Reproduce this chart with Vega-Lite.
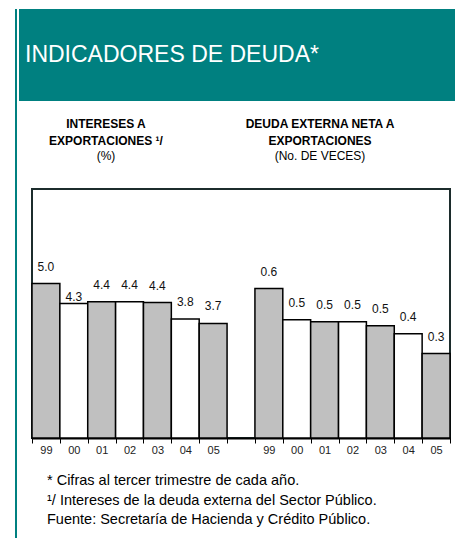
{
  "$schema": "https://vega.github.io/schema/vega-lite/v6.json",
  "padding": {"left": 15, "top": 9, "right": 0, "bottom": 0},
  "spacing": 2,
  "hconcat": [
    {
      "data": {"values": []},
      "mark": "text",
      "width": 2,
      "height": 529,
      "view": {"fill": "#008080", "stroke": null}
    },
    {
      "spacing": 17,
      "vconcat": [
        {
          "data": {"values": []},
          "mark": "text",
          "width": 436,
          "height": 92,
          "view": {"fill": "#008080", "stroke": null},
          "title": {
            "text": "INDICADORES DE DEUDA*",
            "orient": "top",
            "anchor": "start",
            "frame": "group",
            "offset": -58,
            "dx": 6,
            "color": "white",
            "fontSize": 23,
            "fontWeight": "normal",
            "font": "Liberation Sans"
          }
        },
        {
          "spacing": 0,
          "hconcat": [
            {
              "data": {"values": []},
              "mark": "text",
              "width": 174,
              "height": 8,
              "view": {"stroke": null},
              "title": {
                "text": ["INTERESES A", "EXPORTACIONES ¹/"],
                "subtitle": "(%)",
                "anchor": "middle",
                "frame": "group",
                "offset": 0,
                "color": "black",
                "fontSize": 12,
                "fontWeight": "bold",
                "lineHeight": 17,
                "subtitleFontSize": 12,
                "subtitleFontWeight": "normal",
                "subtitleColor": "black",
                "subtitlePadding": 3
              }
            },
            {
              "data": {"values": []},
              "mark": "text",
              "width": 254,
              "height": 8,
              "view": {"stroke": null},
              "title": {
                "text": ["DEUDA EXTERNA NETA A", "EXPORTACIONES"],
                "subtitle": "(No. DE VECES)",
                "anchor": "middle",
                "frame": "group",
                "offset": 0,
                "color": "black",
                "fontSize": 12,
                "fontWeight": "bold",
                "lineHeight": 17,
                "subtitleFontSize": 12,
                "subtitleFontWeight": "normal",
                "subtitleColor": "black",
                "subtitlePadding": 3
              }
            }
          ]
        },
        {
          "spacing": 0,
          "hconcat": [
            {
              "data": {"values": []},
              "mark": "text",
              "width": 11,
              "height": 249,
              "view": {"stroke": null}
            },
            {
              "width": 418,
              "height": 249,
              "data": {
                "values": [
                  {"group": "I", "slot": "I99", "year": "99", "value": 4.96, "label": "5.0"},
                  {"group": "I", "slot": "I00", "year": "00", "value": 4.32, "label": "4.3"},
                  {"group": "I", "slot": "I01", "year": "01", "value": 4.38, "label": "4.4"},
                  {"group": "I", "slot": "I02", "year": "02", "value": 4.38, "label": "4.4"},
                  {"group": "I", "slot": "I03", "year": "03", "value": 4.35, "label": "4.4"},
                  {"group": "I", "slot": "I04", "year": "04", "value": 3.82, "label": "3.8"},
                  {"group": "I", "slot": "I05", "year": "05", "value": 3.68, "label": "3.7"},
                  {"group": "D", "slot": "D99", "year": "99", "value": 0.6, "label": "0.6"},
                  {"group": "D", "slot": "D00", "year": "00", "value": 0.475, "label": "0.5"},
                  {"group": "D", "slot": "D01", "year": "01", "value": 0.467, "label": "0.5"},
                  {"group": "D", "slot": "D02", "year": "02", "value": 0.467, "label": "0.5"},
                  {"group": "D", "slot": "D03", "year": "03", "value": 0.451, "label": "0.5"},
                  {"group": "D", "slot": "D04", "year": "04", "value": 0.419, "label": "0.4"},
                  {"group": "D", "slot": "D05", "year": "05", "value": 0.339, "label": "0.3"}
                ]
              },
              "layer": [
                {
                  "transform": [{"filter": "datum.group == 'I'"}],
                  "encoding": {
                    "x": {
                      "field": "slot",
                      "type": "nominal",
                      "scale": {
                        "domain": ["I99", "I00", "I01", "I02", "I03", "I04", "I05", "gap", "D99", "D00", "D01", "D02", "D03", "D04", "D05"],
                        "paddingInner": 0,
                        "paddingOuter": 0
                      },
                      "axis": {
                        "title": null,
                        "labelAngle": 0,
                        "labelExpr": "isString(datum.value) && datum.value != 'gap' ? substring(datum.value, 1) : ''",
                        "tickBand": "extent",
                        "tickSize": 5,
                        "tickColor": "black",
                        "tickWidth": 1,
                        "domainColor": "black",
                        "domainWidth": 2,
                        "labelFontSize": 11,
                        "labelColor": "#222222",
                        "labelPadding": 1
                      }
                    },
                    "y": {
                      "field": "value",
                      "type": "quantitative",
                      "scale": {"domain": [0, 8], "nice": false},
                      "axis": null
                    }
                  },
                  "layer": [
                    {
                      "mark": {"type": "bar", "stroke": "black", "strokeWidth": 1.5},
                      "encoding": {
                        "color": {
                          "field": "year",
                          "type": "nominal",
                          "scale": {
                            "domain": ["99", "00", "01", "02", "03", "04", "05"],
                            "range": ["#c0c0c0", "#ffffff", "#c0c0c0", "#ffffff", "#c0c0c0", "#ffffff", "#c0c0c0"]
                          },
                          "legend": null
                        }
                      }
                    },
                    {
                      "transform": [{"filter": "datum.slot != 'I00'"}],
                      "mark": {"type": "text", "dy": -17, "fontSize": 12, "color": "#111111"},
                      "encoding": {"text": {"field": "label"}}
                    },
                    {
                      "transform": [{"filter": "datum.slot == 'I00'"}],
                      "mark": {"type": "text", "dy": -7, "fontSize": 12, "color": "#111111"},
                      "encoding": {"text": {"field": "label"}}
                    }
                  ]
                },
                {
                  "transform": [{"filter": "datum.group == 'D'"}],
                  "encoding": {
                    "x": {
                      "field": "slot",
                      "type": "nominal",
                      "scale": {
                        "domain": ["I99", "I00", "I01", "I02", "I03", "I04", "I05", "gap", "D99", "D00", "D01", "D02", "D03", "D04", "D05"],
                        "paddingInner": 0,
                        "paddingOuter": 0
                      },
                      "axis": {
                        "title": null,
                        "labelAngle": 0,
                        "labelExpr": "isString(datum.value) && datum.value != 'gap' ? substring(datum.value, 1) : ''",
                        "tickBand": "extent",
                        "tickSize": 5,
                        "tickColor": "black",
                        "tickWidth": 1,
                        "domainColor": "black",
                        "domainWidth": 2,
                        "labelFontSize": 11,
                        "labelColor": "#222222",
                        "labelPadding": 1
                      }
                    },
                    "y": {
                      "field": "value",
                      "type": "quantitative",
                      "scale": {"domain": [0, 1], "nice": false},
                      "axis": null
                    }
                  },
                  "layer": [
                    {
                      "mark": {"type": "bar", "stroke": "black", "strokeWidth": 1.5},
                      "encoding": {
                        "color": {
                          "field": "year",
                          "type": "nominal",
                          "scale": {
                            "domain": ["99", "00", "01", "02", "03", "04", "05"],
                            "range": ["#c0c0c0", "#ffffff", "#c0c0c0", "#ffffff", "#c0c0c0", "#ffffff", "#c0c0c0"]
                          },
                          "legend": null
                        }
                      }
                    },
                    {
                      "mark": {"type": "text", "dy": -17, "fontSize": 12, "color": "#111111"},
                      "encoding": {"text": {"field": "label"}}
                    }
                  ]
                }
              ],
              "resolve": {"scale": {"y": "independent"}}
            }
          ]
        },
        {
          "data": {"values": []},
          "mark": "text",
          "width": 400,
          "height": 1,
          "view": {"stroke": null},
          "title": {
            "text": [
              "* Cifras al tercer trimestre de cada año.",
              "¹/ Intereses de la deuda externa del Sector Público.",
              "Fuente: Secretaría de Hacienda y Crédito Público."
            ],
            "orient": "bottom",
            "anchor": "start",
            "frame": "group",
            "align": "left",
            "offset": 0,
            "dx": 28,
            "color": "black",
            "fontSize": 14.5,
            "fontWeight": "normal",
            "lineHeight": 19.5
          }
        }
      ]
    }
  ],
  "config": {
    "font": "Liberation Sans",
    "view": {"stroke": "#1c2c2c", "strokeWidth": 2}
  }
}
